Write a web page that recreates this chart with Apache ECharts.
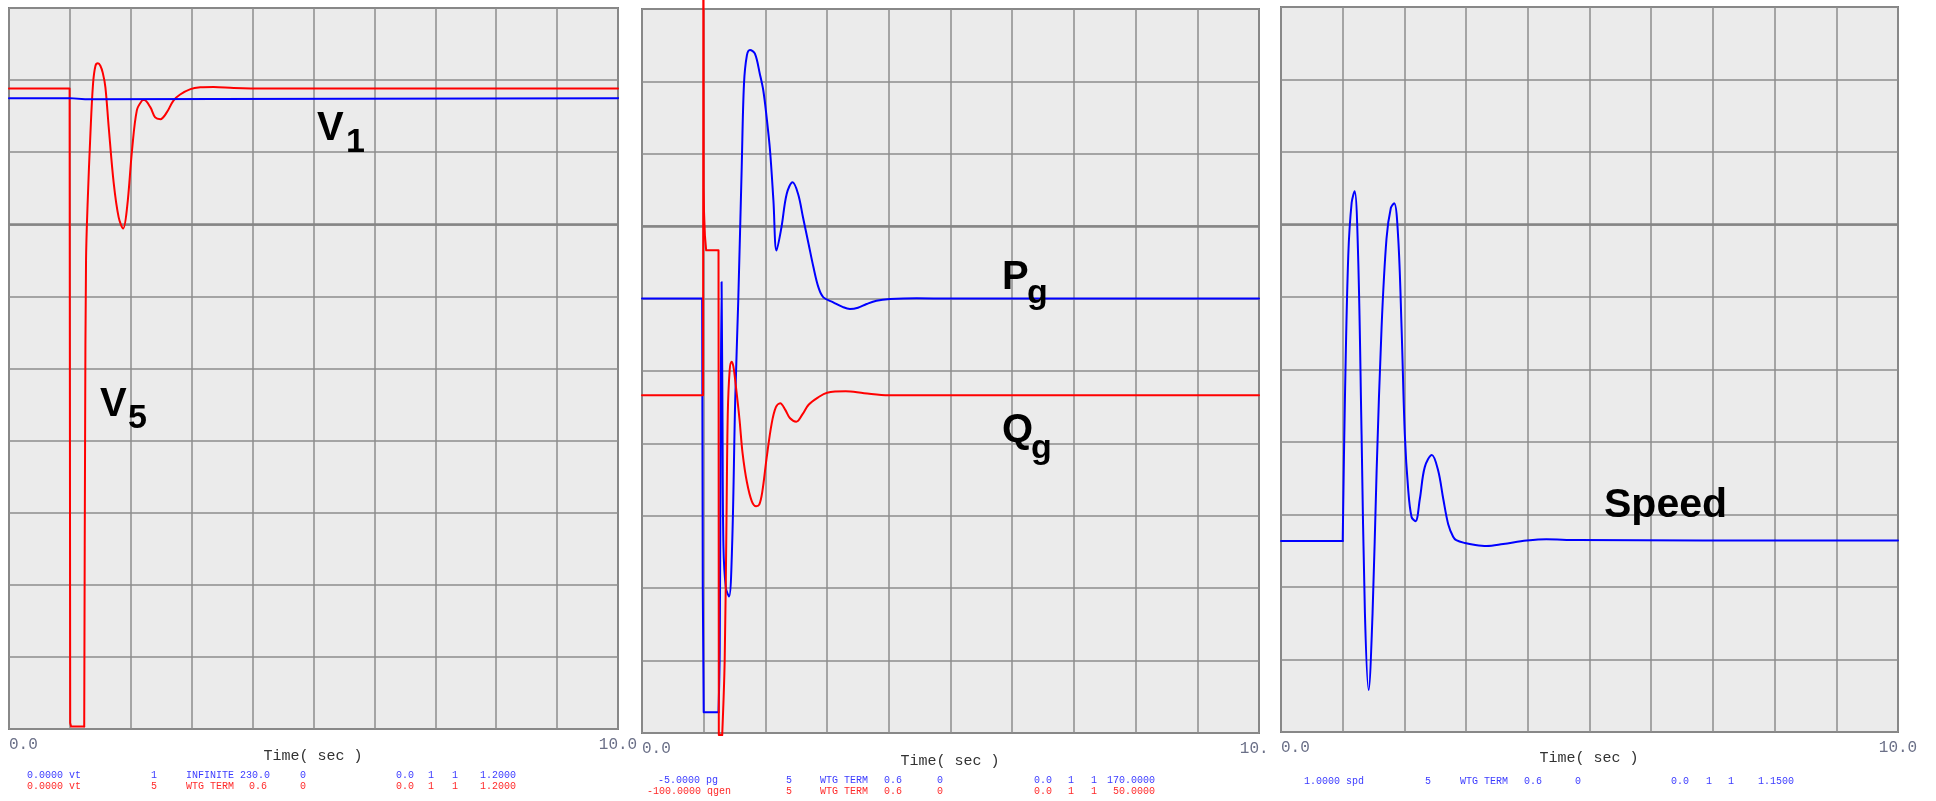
<!DOCTYPE html>
<html><head><meta charset="utf-8">
<script src="https://cdn.jsdelivr.net/npm/echarts@6/dist/echarts.min.js"></script>
<style>html,body{margin:0;padding:0;background:#fff;}#c{width:1936px;height:801px;}</style>
</head><body><div id="c"></div>
<script>
// ---- Panel 1: bus voltages (pu), scale 0.0 .. 1.2
const v1Time = [0, 1.0, 1.005, 1.25, 1.28, 10];
const v1Vals = [1.050, 1.050, 1.048, 1.048, 1.050, 1.050];
// V5: step part (pre-fault + fault) then post-fault swing
const v5StepTime = [0, 0.995, 1.005, 1.02, 1.235];
const v5StepVals = [1.066, 1.066, 0.01, 0.004, 0.004];
const v5WaveTime = [1.235, 1.25, 1.265, 1.293, 1.337, 1.38, 1.42, 1.46, 1.50, 1.54, 1.583, 1.637, 1.72, 1.80, 1.874, 1.94, 2.02, 2.10, 2.185, 2.22, 2.32, 2.40, 2.486, 2.596, 2.70, 2.81, 2.98, 3.14, 3.36, 3.69, 4.2, 5, 10];
const v5WaveVals = [0.004, 0.50, 0.78, 0.88, 0.991, 1.074, 1.104, 1.108, 1.104, 1.092, 1.068, 1.002, 0.908, 0.852, 0.833, 0.869, 0.963, 1.03, 1.046, 1.047, 1.035, 1.018, 1.015, 1.027, 1.046, 1.056, 1.065, 1.068, 1.0687, 1.067, 1.066, 1.066, 1.066];
// ---- Panel 2: Pg (MW) scale -5 .. 170, Qg (Mvar) scale -100 .. 50
const pgStepTime = [0, 0.975, 0.985, 1.0, 1.24];
const pgStepVals = [100, 100, 30, 0, 0];
const pgWaveTime = [1.24, 1.26, 1.275, 1.29, 1.305, 1.32, 1.36, 1.41, 1.46, 1.51, 1.56, 1.616, 1.653, 1.70, 1.75, 1.83, 1.91, 1.966, 2.02, 2.075, 2.13, 2.18, 2.26, 2.345, 2.44, 2.53, 2.61, 2.70, 2.78, 2.86, 2.94, 3.10, 3.25, 3.37, 3.5, 3.64, 3.8, 4.02, 4.45, 5, 10];
const pgWaveVals = [0, 15, 70, 104, 70, 40, 30, 28, 40, 75, 99.5, 131.7, 151.9, 158.8, 160.1, 159.2, 154.3, 150.3, 143.8, 135.8, 123.7, 111.6, 117.2, 125.3, 128.1, 125.3, 119.6, 113.2, 107.5, 102.7, 100.3, 99.1, 98.0, 97.5, 97.8, 98.7, 99.5, 99.9, 100.1, 100, 100];
const qgStepTime = [0, 0.99, 0.995, 1.0, 1.005, 1.02, 1.04, 1.24, 1.245, 1.30];
const qgStepVals = [-30, -30, 90, 13, 8, 3, 0, 0, -100.4, -100.4];
const qgWaveTime = [1.30, 1.34, 1.37, 1.39, 1.42, 1.45, 1.48, 1.52, 1.58, 1.63, 1.70, 1.78, 1.85, 1.90, 1.95, 2.02, 2.10, 2.17, 2.24, 2.32, 2.40, 2.50, 2.60, 2.70, 2.85, 3.0, 3.3, 3.6, 4.0, 10];
const qgWaveVals = [-100.4, -85, -55, -34, -25, -23.1, -24, -28, -35, -42, -48, -52, -53, -52.7, -50, -43, -36, -32.5, -31.7, -33, -34.8, -35.5, -34, -32, -30.5, -29.5, -29.2, -29.6, -30, -30];
// ---- Panel 3: rotor speed (pu), scale 1.0 .. 1.15
const spdStepTime = [0, 1.0];
const spdStepVals = [1.0395, 1.0395];
const spdWaveTime = [1.0, 1.036, 1.09, 1.145, 1.193, 1.25, 1.306, 1.36, 1.42, 1.484, 1.55, 1.63, 1.71, 1.78, 1.835, 1.90, 1.954, 2.007, 2.06, 2.116, 2.18, 2.25, 2.33, 2.445, 2.547, 2.63, 2.71, 2.79, 2.84, 2.98, 3.15, 3.33, 3.6, 3.98, 4.30, 4.8, 10];
const spdWaveVals = [1.0395, 1.0689, 1.0985, 1.1095, 1.1119, 1.0985, 1.0615, 1.0246, 1.0087, 1.0246, 1.0541, 1.0837, 1.1021, 1.1084, 1.1094, 1.1021, 1.0837, 1.0615, 1.0504, 1.0445, 1.0436, 1.0482, 1.0548, 1.0573, 1.0541, 1.0482, 1.043, 1.0404, 1.0397, 1.0391, 1.0387, 1.0385, 1.0389, 1.0396, 1.0399, 1.0397, 1.0396];
// ---- axis scales and tick labels
const scaleMin = { vt: 0.0, pg: -5.0, qgen: -100.0, spd: 1.0 };
const scaleMax = { vt: 1.2, pg: 170.0, qgen: 50.0, spd: 1.15 };
const timeMin = 0, timeMax = 10;
const tickLabelsLeft = ['0.0', '0.0', '0.0'];
const tickLabelsRight = ['10.0', '10. ', '10.0'];
const axisTitle = 'Time( sec )';
const axisTitlePos = [[313, 756], [950, 761], [1589, 758]];
const legendRows = [
  [{c:'#3c3cff', y:775, f:[['0.0000 vt',27],['1',151],['INFINITE 230.0',186],['0',300],['0.0',396],['1',428],['1',452],['1.2000',480]]},
   {c:'#ff2a2a', y:786, f:[['0.0000 vt',27],['5',151],['WTG TERM',186],['0.6',249],['0',300],['0.0',396],['1',428],['1',452],['1.2000',480]]}],
  [{c:'#3c3cff', y:780, f:[['-5.0000 pg',658],['5',786],['WTG TERM',820],['0.6',884],['0',937],['0.0',1034],['1',1068],['1',1091],['170.0000',1107]]},
   {c:'#ff2a2a', y:791, f:[['-100.0000 qgen',647],['5',786],['WTG TERM',820],['0.6',884],['0',937],['0.0',1034],['1',1068],['1',1091],['50.0000',1113]]}],
  [{c:'#3c3cff', y:781, f:[['1.0000 spd',1304],['5',1425],['WTG TERM',1460],['0.6',1524],['0',1575],['0.0',1671],['1',1706],['1',1728],['1.1500',1758]]}]
];
const zip = (t, v) => t.map((x, i) => [x, v[i]]);

const grids = [
  {left: 9, top: 8, width: 609, height: 721},
  {left: 642, top: 9, width: 617, height: 724},
  {left: 1281, top: 7, width: 617, height: 725}
];
const gridLine = {color: '#8d8d8d', width: 1.5};
const xAxes = [], yAxes = [];
grids.forEach((g, i) => {
  xAxes.push({
    gridIndex: i, type: 'value', min: timeMin, max: timeMax, interval: 1,
    axisLine: {show: false}, axisTick: {show: false},
    splitLine: {show: true, lineStyle: gridLine},
    axisLabel: {
      show: true, margin: 8, color: '#6b7088', fontFamily: 'Liberation Mono', fontSize: 16,
      alignMinLabel: 'left', alignMaxLabel: 'center',
      formatter: v => v === timeMin ? tickLabelsLeft[i] : (v === timeMax ? tickLabelsRight[i] : '')
    }
  });
});
// division axes (grid lines): indices 0,1,2
grids.forEach((g, i) => {
  yAxes.push({gridIndex: i, type: 'value', min: 0, max: 10, interval: 1,
    axisLine: {show: false}, axisTick: {show: false}, axisLabel: {show: false},
    splitLine: {show: true, lineStyle: gridLine}});
});
// data axes: 3 vt, 4 pg, 5 qgen, 6 spd
const dataAxis = (gi, k) => ({gridIndex: gi, type: 'value', min: scaleMin[k], max: scaleMax[k], show: false, splitLine: {show: false}});
yAxes.push(dataAxis(0, 'vt'), dataAxis(1, 'pg'), dataAxis(1, 'qgen'), dataAxis(2, 'spd'));

const lineSeries = (xi, yi, data, color, smooth) => ({
  type: 'line', xAxisIndex: xi, yAxisIndex: yi, data, showSymbol: false, symbol: 'none',
  smooth: smooth, animation: false, clip: true,
  lineStyle: {color, width: 2, cap: 'round', join: 'round'}, z: 5
});
const thickLine = (i) => ({
  type: 'line', xAxisIndex: i, yAxisIndex: i, data: [], animation: false,
  markLine: {silent: true, symbol: 'none', label: {show: false}, animation: false,
    lineStyle: {color: '#858585', width: 2.6, type: 'solid'}, data: [{yAxis: 7}]}
});
const S = 0.35;
const series = [
  thickLine(0), thickLine(1), thickLine(2),
  lineSeries(0, 3, zip(v5StepTime, v5StepVals), '#ff0000', false),
  lineSeries(0, 3, zip(v5WaveTime, v5WaveVals), '#ff0000', S),
  lineSeries(0, 3, zip(v1Time, v1Vals), '#0000ff', false),
  lineSeries(1, 4, zip(pgStepTime, pgStepVals), '#0000ff', false),
  lineSeries(1, 4, zip(pgWaveTime, pgWaveVals), '#0000ff', S),
  Object.assign(lineSeries(1, 5, zip(qgStepTime, qgStepVals), '#ff0000', false), {clip: false}),
  Object.assign(lineSeries(1, 5, zip(qgWaveTime, qgWaveVals), '#ff0000', S), {clip: false}),
  lineSeries(2, 6, zip(spdStepTime, spdStepVals), '#0000ff', false),
  lineSeries(2, 6, zip(spdWaveTime, spdWaveVals), '#0000ff', S)
];

const graphics = [];
const lbl = (text, x, y, size) => ({type: 'text', x, y, silent: true, z: 50,
  style: {text, fill: '#000', font: 'bold ' + size + 'px "Liberation Sans", Arial, sans-serif', textVerticalAlign: 'bottom'}});
graphics.push(lbl('V', 317, 149, 40), lbl('1', 346, 160, 34));
graphics.push(lbl('V', 100, 425, 40), lbl('5', 128, 436, 34));
graphics.push(lbl('P', 1002, 298, 40), lbl('g', 1027, 311, 34));
graphics.push(lbl('Q', 1002, 451, 40), lbl('g', 1031, 466, 34));
graphics.push(lbl('Speed', 1604, 526, 41));
axisTitlePos.forEach(([x, y]) => graphics.push({type: 'text', x, y, silent: true,
  style: {text: axisTitle, fill: '#333', font: '15px "Liberation Mono", monospace', textAlign: 'center', textVerticalAlign: 'middle'}}));
legendRows.forEach(panel => panel.forEach(row => row.f.forEach(([t, x]) => {
  graphics.push({type: 'text', x, y: row.y, silent: true,
    style: {text: t, fill: row.c, font: '10px "Liberation Mono", monospace', textVerticalAlign: 'middle'}});
})));

const chart = echarts.init(document.getElementById('c'), null, {renderer: 'canvas'});
chart.setOption({
  animation: false,
  backgroundColor: '#ffffff',
  grid: grids.map(g => Object.assign({show: true, backgroundColor: '#ebebeb', borderColor: '#7d7d7d', borderWidth: 2, containLabel: false}, g)),
  xAxis: xAxes, yAxis: yAxes, series, graphic: graphics
});
</script></body></html>
